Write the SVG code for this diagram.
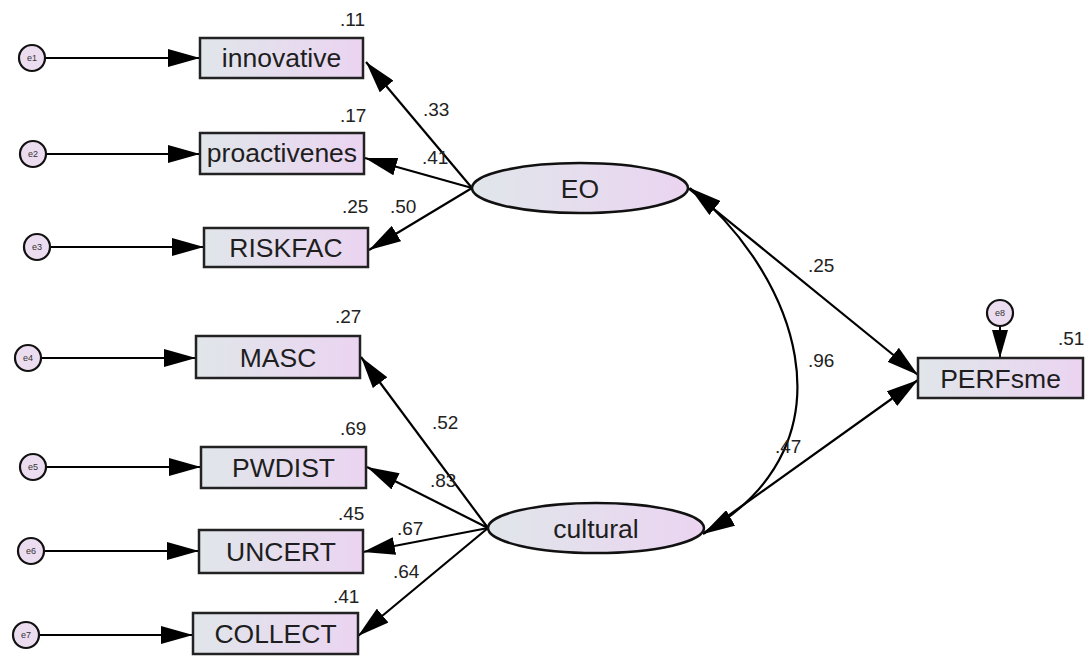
<svg xmlns="http://www.w3.org/2000/svg" width="1092" height="656" viewBox="0 0 1092 656">
<defs>
<linearGradient id="g" x1="0" y1="0" x2="1" y2="0">
<stop offset="0" stop-color="#e0e6ea"/>
<stop offset="1" stop-color="#ebd4f1"/>
</linearGradient>
<marker id="ah" markerUnits="userSpaceOnUse" markerWidth="32" markerHeight="18" refX="32" refY="9" orient="auto-start-reverse" viewBox="0 0 32 18">
<path d="M0,0 L32,9 L0,18 z" fill="#000"/>
</marker>
<marker id="ahs" markerUnits="userSpaceOnUse" markerWidth="16" markerHeight="28" refX="8" refY="28" viewBox="0 0 16 28">
<path d="M0,0 L16,0 L8,28 z" fill="#000"/>
</marker>
</defs>
<style>
.box{fill:url(#g);stroke:#222;stroke-width:2.5}
.lat{fill:url(#g);stroke:#111;stroke-width:2.5}
.err{fill:#ecdcef;stroke:#111;stroke-width:2.2}
.t{font-family:"Liberation Sans",Arial,sans-serif;font-size:26.5px;fill:#1e1e1e;text-anchor:middle}
.et{font-family:"Liberation Sans",Arial,sans-serif;font-size:9px;fill:#333;text-anchor:middle}
.n{font-family:"Liberation Sans",Arial,sans-serif;font-size:19px;fill:#222}
.c{stroke:#000;stroke-width:2.2;fill:none;marker-end:url(#ah)}
</style>
<g id="connectors">
<line class="c" x1="45" y1="58" x2="200" y2="58"/>
<line class="c" x1="46" y1="154" x2="200" y2="154"/>
<line class="c" x1="50" y1="247" x2="204" y2="247"/>
<line class="c" x1="41" y1="358" x2="196" y2="358"/>
<line class="c" x1="46" y1="467" x2="201" y2="467"/>
<line class="c" x1="44" y1="551" x2="199" y2="551"/>
<line class="c" x1="39" y1="635" x2="193" y2="635"/>
<line x1="1000" y1="326" x2="1000" y2="358" stroke="#000" stroke-width="2" marker-end="url(#ahs)"/>
<line class="c" x1="472" y1="188" x2="366" y2="62"/>
<line class="c" x1="472" y1="188" x2="365" y2="158"/>
<line class="c" x1="472" y1="188" x2="369" y2="250"/>
<line class="c" x1="488" y1="528" x2="361" y2="357"/>
<line class="c" x1="488" y1="528" x2="367" y2="467"/>
<line class="c" x1="488" y1="528" x2="363" y2="552"/>
<line class="c" x1="488" y1="528" x2="358" y2="636"/>
<line class="c" x1="688" y1="188" x2="918" y2="375"/>
<line class="c" x1="704" y1="533" x2="918" y2="380"/>
<path class="c" d="M 690 188 C 790 268, 865 440, 703 534" marker-start="url(#ah)"/>
</g>
<g id="e1"><circle class="err" cx="32" cy="58" r="13"/><text class="et" x="32" y="61">e1</text></g>
<g id="e2"><circle class="err" cx="33" cy="154" r="13"/><text class="et" x="33" y="157">e2</text></g>
<g id="e3"><circle class="err" cx="37" cy="247" r="13"/><text class="et" x="37" y="250">e3</text></g>
<g id="e4"><circle class="err" cx="28" cy="358" r="13"/><text class="et" x="28" y="361">e4</text></g>
<g id="e5"><circle class="err" cx="33" cy="467" r="13"/><text class="et" x="33" y="470">e5</text></g>
<g id="e6"><circle class="err" cx="31" cy="551" r="13"/><text class="et" x="31" y="554">e6</text></g>
<g id="e7"><circle class="err" cx="26" cy="635" r="13"/><text class="et" x="26" y="638">e7</text></g>
<g id="e8"><circle class="err" cx="1000" cy="313" r="13"/><text class="et" x="1000" y="316">e8</text></g>
<g id="innovative"><rect class="box" x="200" y="38" width="163" height="40"/><text class="t" x="281.5" y="67">innovative</text><text class="n" x="340" y="26">.11</text></g>
<g id="proactivenes"><rect class="box" x="200" y="133" width="164" height="41"/><text class="t" x="282" y="162">proactivenes</text><text class="n" x="340" y="122">.17</text></g>
<g id="RISKFAC"><rect class="box" x="204" y="228" width="164" height="39"/><text class="t" x="286" y="257">RISKFAC</text><text class="n" x="342" y="213">.25</text></g>
<g id="MASC"><rect class="box" x="196" y="336" width="164" height="42"/><text class="t" x="278" y="367">MASC</text><text class="n" x="335" y="323">.27</text></g>
<g id="PWDIST"><rect class="box" x="201" y="447" width="165" height="41"/><text class="t" x="283.5" y="477">PWDIST</text><text class="n" x="340" y="435">.69</text></g>
<g id="UNCERT"><rect class="box" x="199" y="530" width="164" height="43"/><text class="t" x="281" y="561">UNCERT</text><text class="n" x="338" y="520">.45</text></g>
<g id="COLLECT"><rect class="box" x="193" y="613" width="165" height="41"/><text class="t" x="275.5" y="643">COLLECT</text><text class="n" x="333" y="603">.41</text></g>
<g id="PERFsme"><rect class="box" x="918" y="358" width="165" height="40"/><text class="t" x="1000.5" y="388">PERFsme</text><text class="n" x="1058" y="345">.51</text></g>
<g id="EO"><ellipse class="lat" cx="580" cy="188" rx="108" ry="25"/><text class="t" x="580" y="198">EO</text></g>
<g id="cultural"><ellipse class="lat" cx="596" cy="528" rx="108" ry="25"/><text class="t" x="596" y="538">cultural</text></g>
<g id="labels">
<text class="n" x="423" y="116">.33</text>
<text class="n" x="422" y="164">.41</text>
<text class="n" x="390" y="213">.50</text>
<text class="n" x="432" y="429">.52</text>
<text class="n" x="430" y="487">.83</text>
<text class="n" x="397" y="535">.67</text>
<text class="n" x="393" y="578">.64</text>
<text class="n" x="808" y="272">.25</text>
<text class="n" x="808" y="367">.96</text>
<text class="n" x="775" y="453">.47</text>
</g>
</svg>
